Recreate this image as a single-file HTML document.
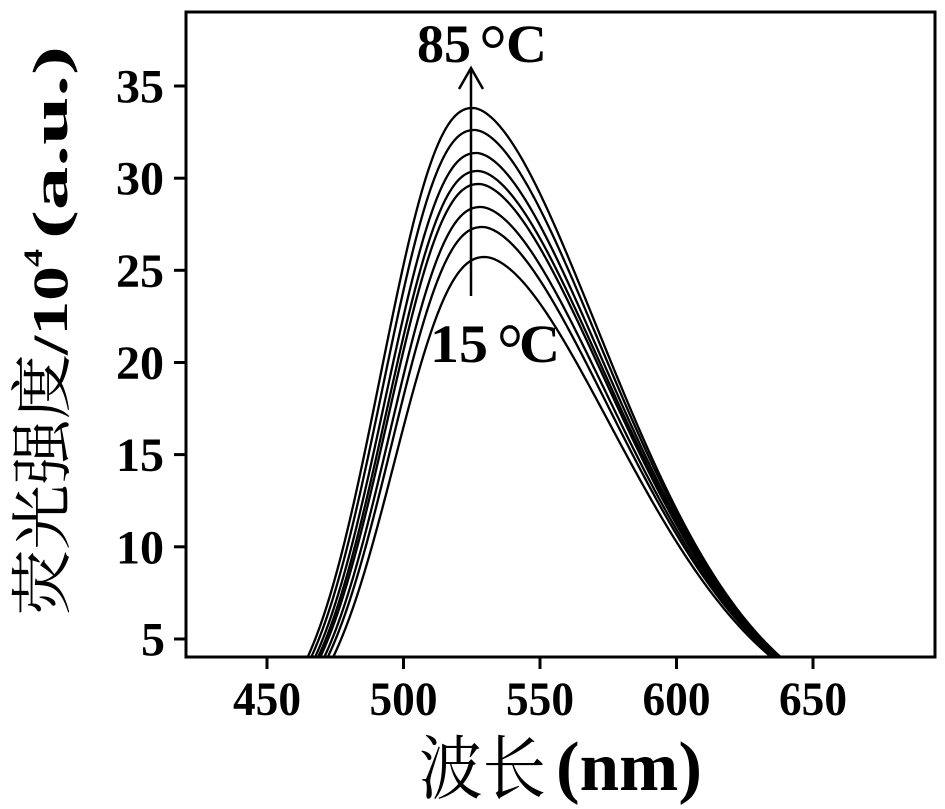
<!DOCTYPE html>
<html><head><meta charset="utf-8"><style>
html,body{margin:0;padding:0;background:#fff;}
svg{display:block;}
.b{font-family:"Liberation Serif",serif;font-weight:bold;fill:#000;}
.n{font-family:"Liberation Serif",serif;font-weight:normal;fill:#000;}
.c{font-family:"Liberation Serif","Noto Serif CJK SC",serif;fill:#000;}
</style></head><body>
<svg id="s" width="945" height="809" viewBox="0 0 945 809" xmlns="http://www.w3.org/2000/svg">
<rect width="945" height="809" fill="#fff"/>
<defs><clipPath id="cp"><rect x="186" y="12" width="749" height="645"/></clipPath></defs>
<g id="curves" clip-path="url(#cp)" fill="none" stroke="#000" stroke-width="2.3" stroke-linejoin="round"></g>
<!-- arrow -->
<line x1="471" y1="296" x2="471" y2="69" stroke="#000" stroke-width="2.5"/>
<polyline points="459,89 471,68 483,89" fill="none" stroke="#000" stroke-width="2.5"/>
<!-- frame -->
<rect x="186" y="12" width="749" height="645" fill="none" stroke="#000" stroke-width="3"/>
<!-- ticks -->
<g stroke="#000" stroke-width="3">
<line x1="174" y1="86" x2="186" y2="86"/>
<line x1="174" y1="178.2" x2="186" y2="178.2"/>
<line x1="174" y1="270.3" x2="186" y2="270.3"/>
<line x1="174" y1="362.5" x2="186" y2="362.5"/>
<line x1="174" y1="454.6" x2="186" y2="454.6"/>
<line x1="174" y1="546.8" x2="186" y2="546.8"/>
<line x1="174" y1="639" x2="186" y2="639"/>
<line x1="267" y1="657" x2="267" y2="669"/>
<line x1="403.5" y1="657" x2="403.5" y2="669"/>
<line x1="540" y1="657" x2="540" y2="669"/>
<line x1="676.5" y1="657" x2="676.5" y2="669"/>
<line x1="813" y1="657" x2="813" y2="669"/>
</g>
<!-- y tick labels -->
<g class="b" font-size="48">
<text x="116" y="102.5" textLength="48" lengthAdjust="spacingAndGlyphs">35</text>
<text x="116" y="194.7" textLength="48" lengthAdjust="spacingAndGlyphs">30</text>
<text x="116" y="286.8" textLength="48" lengthAdjust="spacingAndGlyphs">25</text>
<text x="116" y="379" textLength="48" lengthAdjust="spacingAndGlyphs">20</text>
<text x="116" y="471.1" textLength="48" lengthAdjust="spacingAndGlyphs">15</text>
<text x="116" y="563.3" textLength="48" lengthAdjust="spacingAndGlyphs">10</text>
<text x="141" y="655.5" textLength="24" lengthAdjust="spacingAndGlyphs">5</text>
</g>
<!-- x tick labels -->
<g class="b" font-size="48">
<text x="233" y="715" textLength="68" lengthAdjust="spacingAndGlyphs">450</text>
<text x="369.5" y="715" textLength="68" lengthAdjust="spacingAndGlyphs">500</text>
<text x="506" y="715" textLength="68" lengthAdjust="spacingAndGlyphs">550</text>
<text x="642.5" y="715" textLength="68" lengthAdjust="spacingAndGlyphs">600</text>
<text x="779" y="715" textLength="68" lengthAdjust="spacingAndGlyphs">650</text>
</g>
<!-- x axis title -->
<text class="c" x="419" y="793" font-size="70" textLength="127" lengthAdjust="spacingAndGlyphs">波长</text>
<text class="b" x="556" y="790" font-size="70" textLength="146" lengthAdjust="spacingAndGlyphs">(nm)</text>
<!-- y axis title -->
<g transform="translate(67,612) rotate(-90)">
<text class="c" x="-3" y="-3" font-size="62" textLength="261" lengthAdjust="spacingAndGlyphs">荧光强度</text>
<text class="b" x="257" y="0" font-size="50" textLength="89" lengthAdjust="spacingAndGlyphs">/10</text>
<text class="b" x="345" y="-25" font-size="26" textLength="18" lengthAdjust="spacingAndGlyphs">4</text>
<text class="b" x="373" y="0" font-size="50" textLength="193" lengthAdjust="spacingAndGlyphs">(a.u.)</text>
</g>
<!-- annotations -->
<text class="b" x="417" y="62" font-size="54" textLength="54" lengthAdjust="spacingAndGlyphs">85</text>
<text class="n" x="479" y="74" font-size="72" textLength="28" lengthAdjust="spacingAndGlyphs">°</text>
<text class="b" x="506" y="62" font-size="54" textLength="41" lengthAdjust="spacingAndGlyphs">C</text>
<text class="b" x="430" y="362" font-size="54" textLength="58" lengthAdjust="spacingAndGlyphs">15</text>
<text class="n" x="497" y="373" font-size="72" textLength="26" lengthAdjust="spacingAndGlyphs">°</text>
<text class="b" x="519" y="362" font-size="54" textLength="41" lengthAdjust="spacingAndGlyphs">C</text>
</svg>
<script>
(function(){
var peaks=[108,130,153,171,184,207,227,257];
var g=document.getElementById('curves');
var ns='http://www.w3.org/2000/svg';
function v2y(v){return 86+(35-v)*18.43;}
peaks.forEach(function(py){
  var s=(py-108)/149;
  var A=35-(py-86)/18.43;
  var x0=473+12*s, wL=119-3*s, wR=199.7+1.3*s, pL=2.3, pR=1.75;
  var d='';
  for(var x=180;x<=940;x+=1.5){
    var dx=x-x0, v;
    if(dx<0){v=A*Math.exp(-Math.pow(-dx/wL,pL));}
    else{v=A*Math.exp(-Math.pow(dx/wR,pR));}
    var y=v2y(v);
    if(y>700) y=700;
    d+=(d?' L':'M')+x.toFixed(1)+','+y.toFixed(2);
  }
  var p=document.createElementNS(ns,'path');
  p.setAttribute('d',d);
  g.appendChild(p);
});
})();
</script>
</body></html>
